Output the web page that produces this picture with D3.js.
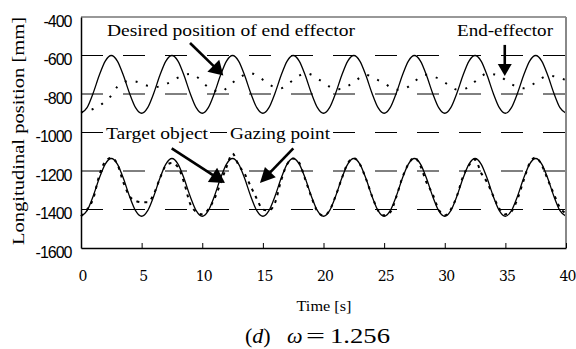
<!DOCTYPE html>
<html>
<head>
<meta charset="utf-8">
<script src="https://cdn.jsdelivr.net/npm/d3@7"></script>
<style>
  body { margin: 0; background: #fff; }
  svg { display: block; }
</style>
</head>
<body>
<script>
//////////////   Data   //////////////

// sample times [s], every 0.5 s
var times = d3.range(0, 40.001, 0.5);

// Desired position of end effector [mm] (upper solid)
var desiredPos = [
  -900,-871,-796,-704,-629,-600,-629,-704,-796,-871,
  -900,-871,-796,-704,-629,-600,-629,-704,-796,-871,
  -900,-871,-796,-704,-629,-600,-629,-704,-796,-871,
  -900,-871,-796,-704,-629,-600,-629,-704,-796,-871,
  -900,-871,-796,-704,-629,-600,-629,-704,-796,-871,
  -900,-871,-796,-704,-629,-600,-629,-704,-796,-871,
  -900,-871,-796,-704,-629,-600,-629,-704,-796,-871,
  -900,-871,-796,-704,-629,-600,-629,-704,-796,-871,
  -900];

// End-effector [mm] (upper dotted)
var endEffector = [
  -895,-888,-878,-862,-838,-808,-762,-740,-732,-735,
  -745,-758,-765,-760,-748,-735,-715,-702,-696,-708,
  -738,-765,-782,-790,-770,-742,-718,-700,-692,-705,
  -726,-750,-765,-770,-752,-727,-705,-692,-700,-720,
  -740,-762,-775,-774,-758,-740,-715,-700,-712,-728,
  -742,-765,-778,-775,-762,-735,-712,-700,-708,-720,
  -740,-760,-777,-775,-762,-735,-710,-692,-697,-705,
  -727,-748,-764,-770,-760,-740,-718,-705,-708,-718,
  -727];

// Target object [mm] (lower solid)
var targetObj = [
  -1435,-1406,-1331,-1239,-1164,-1135,-1164,-1239,-1331,-1406,
  -1435,-1406,-1331,-1239,-1164,-1135,-1164,-1239,-1331,-1406,
  -1435,-1406,-1331,-1239,-1164,-1135,-1164,-1239,-1331,-1406,
  -1435,-1406,-1331,-1239,-1164,-1135,-1164,-1239,-1331,-1406,
  -1435,-1406,-1331,-1239,-1164,-1135,-1164,-1239,-1331,-1406,
  -1435,-1406,-1331,-1239,-1164,-1135,-1164,-1239,-1331,-1406,
  -1435,-1406,-1331,-1239,-1164,-1135,-1164,-1239,-1331,-1406,
  -1435,-1406,-1331,-1239,-1164,-1135,-1164,-1239,-1331,-1406,
  -1435];

// Gazing point [mm] (lower dashed)
var gazePoint = [
  -1435,-1400,-1345,-1225,-1150,-1132,-1165,-1260,-1330,-1355,
  -1362,-1362,-1320,-1240,-1172,-1158,-1180,-1260,-1370,-1412,
  -1425,-1400,-1345,-1265,-1180,-1110,-1170,-1215,-1280,-1345,
  -1400,-1405,-1365,-1250,-1165,-1135,-1158,-1245,-1335,-1410,
  -1432,-1405,-1330,-1240,-1160,-1133,-1165,-1240,-1330,-1405,
  -1430,-1415,-1335,-1235,-1165,-1130,-1175,-1260,-1320,-1400,
  -1430,-1400,-1330,-1230,-1170,-1140,-1210,-1260,-1330,-1395,
  -1425,-1410,-1345,-1250,-1160,-1130,-1170,-1245,-1320,-1390,
  -1420];

var xTicks = [0, 5, 10, 15, 20, 25, 30, 35, 40];
var yTicks = [-400, -600, -800, -1000, -1200, -1400, -1600];
var gridValues = [-600, -800, -1000, -1200, -1400];

//////////////   Layout   //////////////

var W = 576, H = 349;
var plot = {left: 81, right: 566, top: 17, bottom: 248};
var serif = "'Liberation Serif', 'Times New Roman', serif";

// annotations, in data coordinates (t [s], value [mm])
var arrows = [
  {from: [8.99, -535],  to: [11.74, -704], len: 14, wid: 17},
  {from: [34.95, -545], to: [34.95, -706], len: 12, wid: 14},
  {from: [7.48, -1082], to: [11.88, -1262], len: 15, wid: 17},
  {from: [17.51, -1082], to: [14.76, -1262], len: 15, wid: 15}
];
var labels = [
  {text: "Desired position of end effector", x: 107, y: 36, w: 248, box: false},
  {text: "End-effector", x: 457, y: 36, w: 96, box: false},
  {text: "Target object", x: 106, y: 139, w: 102, box: true},
  {text: "Gazing point", x: 230, y: 139, w: 100, box: true}
];

//////////////   Drawing   //////////////

var svg = d3.select("body").append("svg")
    .attr("width", W)
    .attr("height", H);

svg.append("rect").attr("width", W).attr("height", H).attr("fill", "#fff");

var x = d3.scaleLinear().domain([0, 40]).range([plot.left, plot.right]);
var y = d3.scaleLinear().domain([-1600, -400]).range([plot.bottom, plot.top]);

// dashed gridlines
svg.append("g").selectAll("line")
  .data(gridValues)
  .enter().append("line")
    .attr("x1", plot.left).attr("x2", plot.right)
    .attr("y1", function(d) { return y(d); })
    .attr("y2", function(d) { return y(d); })
    .attr("stroke", "#000")
    .attr("stroke-width", 1)
    .attr("stroke-dasharray", "22,20");

// series
var line = d3.line()
    .x(function(d) { return x(d[0]); })
    .y(function(d) { return y(d[1]); })
    .curve(d3.curveMonotoneX);

function pairs(vals) { return times.map(function(t, i) { return [t, vals[i]]; }); }

svg.append("path").datum(pairs(endEffector))
    .attr("d", line).attr("fill", "none")
    .attr("stroke", "#000").attr("stroke-width", 2)
    .attr("stroke-dasharray", "2,9");

svg.append("path").datum(pairs(desiredPos))
    .attr("d", line).attr("fill", "none")
    .attr("stroke", "#000").attr("stroke-width", 1.3);

svg.append("path").datum(pairs(targetObj))
    .attr("d", line).attr("fill", "none")
    .attr("stroke", "#000").attr("stroke-width", 1.3);

svg.append("path").datum(pairs(gazePoint))
    .attr("d", line).attr("fill", "none")
    .attr("stroke", "#000").attr("stroke-width", 2)
    .attr("stroke-dasharray", "3,5");

// frame
svg.append("line")
    .attr("x1", plot.left).attr("x2", plot.right)
    .attr("y1", plot.top).attr("y2", plot.top)
    .attr("stroke", "#333").attr("stroke-width", 1.2);
svg.append("line")
    .attr("x1", plot.right).attr("x2", plot.right)
    .attr("y1", plot.top).attr("y2", plot.bottom)
    .attr("stroke", "#888").attr("stroke-width", 2);

// x axis
var xAxis = svg.append("g")
    .attr("transform", "translate(0," + plot.bottom + ")")
    .call(d3.axisBottom(x).tickValues(xTicks).tickSizeInner(-5).tickSizeOuter(0)
          .tickFormat(function(d) { return String(d); }));
xAxis.select(".domain").attr("stroke", "#000").attr("stroke-width", 1.5);
xAxis.selectAll(".tick line").attr("stroke", "#000").attr("stroke-width", 1);
xAxis.selectAll(".tick text")
    .attr("y", 33).attr("dy", 0).attr("dx", 1)
    .attr("fill", "#000")
    .style("font-family", "'DejaVu Serif', serif")
    .style("font-size", "14px")
    .style("letter-spacing", "-1px");

// y axis
var yAxis = svg.append("g")
    .attr("transform", "translate(" + plot.left + ",0)")
    .call(d3.axisLeft(y).tickValues(yTicks).tickSize(0).tickPadding(9.5)
          .tickFormat(function(d) { return String(d); }));
yAxis.select(".domain").attr("stroke", "#000").attr("stroke-width", 1.5);
yAxis.selectAll(".tick text")
    .attr("y", 9.2).attr("dy", 0)
    .attr("fill", "#000")
    .style("font-family", "'Liberation Sans', Arial, sans-serif")
    .style("font-size", "16px")
    .style("letter-spacing", "-1px");

// axis titles
svg.append("text")
    .attr("transform", "translate(24,131) rotate(-90)")
    .attr("text-anchor", "middle")
    .attr("textLength", 228).attr("lengthAdjust", "spacingAndGlyphs")
    .style("font-family", serif)
    .style("font-size", "16.5px")
    .text("Longitudinal position [mm]");

svg.append("text")
    .attr("x", 324).attr("y", 311)
    .attr("text-anchor", "middle")
    .attr("textLength", 55).attr("lengthAdjust", "spacingAndGlyphs")
    .style("font-family", serif)
    .style("font-size", "14px")
    .text("Time [s]");

// caption (d) omega = 1.256
var cap = svg.append("g")
    .style("font-family", serif)
    .style("font-size", "22px");
var capText = cap.append("text").attr("x", 245).attr("y", 343);
capText.append("tspan").text("(");
capText.append("tspan").style("font-style", "italic").text("d");
capText.append("tspan").text(")");
cap.append("text").attr("x", 287).attr("y", 343)
    .style("font-style", "italic").text("\u03c9");
cap.append("text").attr("x", 306).attr("y", 343)
    .attr("textLength", 19).attr("lengthAdjust", "spacingAndGlyphs").text("=");
cap.append("text").attr("x", 330).attr("y", 343)
    .attr("textLength", 60).attr("lengthAdjust", "spacingAndGlyphs").text("1.256");

// annotation labels
labels.forEach(function(l) {
    if (l.box) {
        svg.append("rect")
            .attr("x", l.x - 3).attr("y", l.y - 14)
            .attr("width", l.w + 5).attr("height", 18)
            .attr("fill", "#fff");
    }
    svg.append("text")
        .attr("x", l.x).attr("y", l.y)
        .attr("textLength", l.w).attr("lengthAdjust", "spacingAndGlyphs")
        .style("font-family", serif)
        .style("font-size", "16.5px")
        .text(l.text);
});

// annotation arrows
arrows.forEach(function(a) {
    var x0 = x(a.from[0]), y0 = y(a.from[1]),
        x1 = x(a.to[0]),   y1 = y(a.to[1]);
    var dx = x1 - x0, dy = y1 - y0, d = Math.sqrt(dx*dx + dy*dy);
    var ux = dx/d, uy = dy/d;
    var bx = x1 - ux*a.len, by = y1 - uy*a.len;
    svg.append("line")
        .attr("x1", x0).attr("y1", y0)
        .attr("x2", bx + ux*2).attr("y2", by + uy*2)
        .attr("stroke", "#000").attr("stroke-width", 2.6);
    var pts = [[x1, y1],
               [bx - uy*a.wid/2, by + ux*a.wid/2],
               [bx + uy*a.wid/2, by - ux*a.wid/2]];
    svg.append("polygon")
        .attr("points", pts.map(function(p) { return p.join(","); }).join(" "))
        .attr("fill", "#000");
});
</script>
</body>
</html>
